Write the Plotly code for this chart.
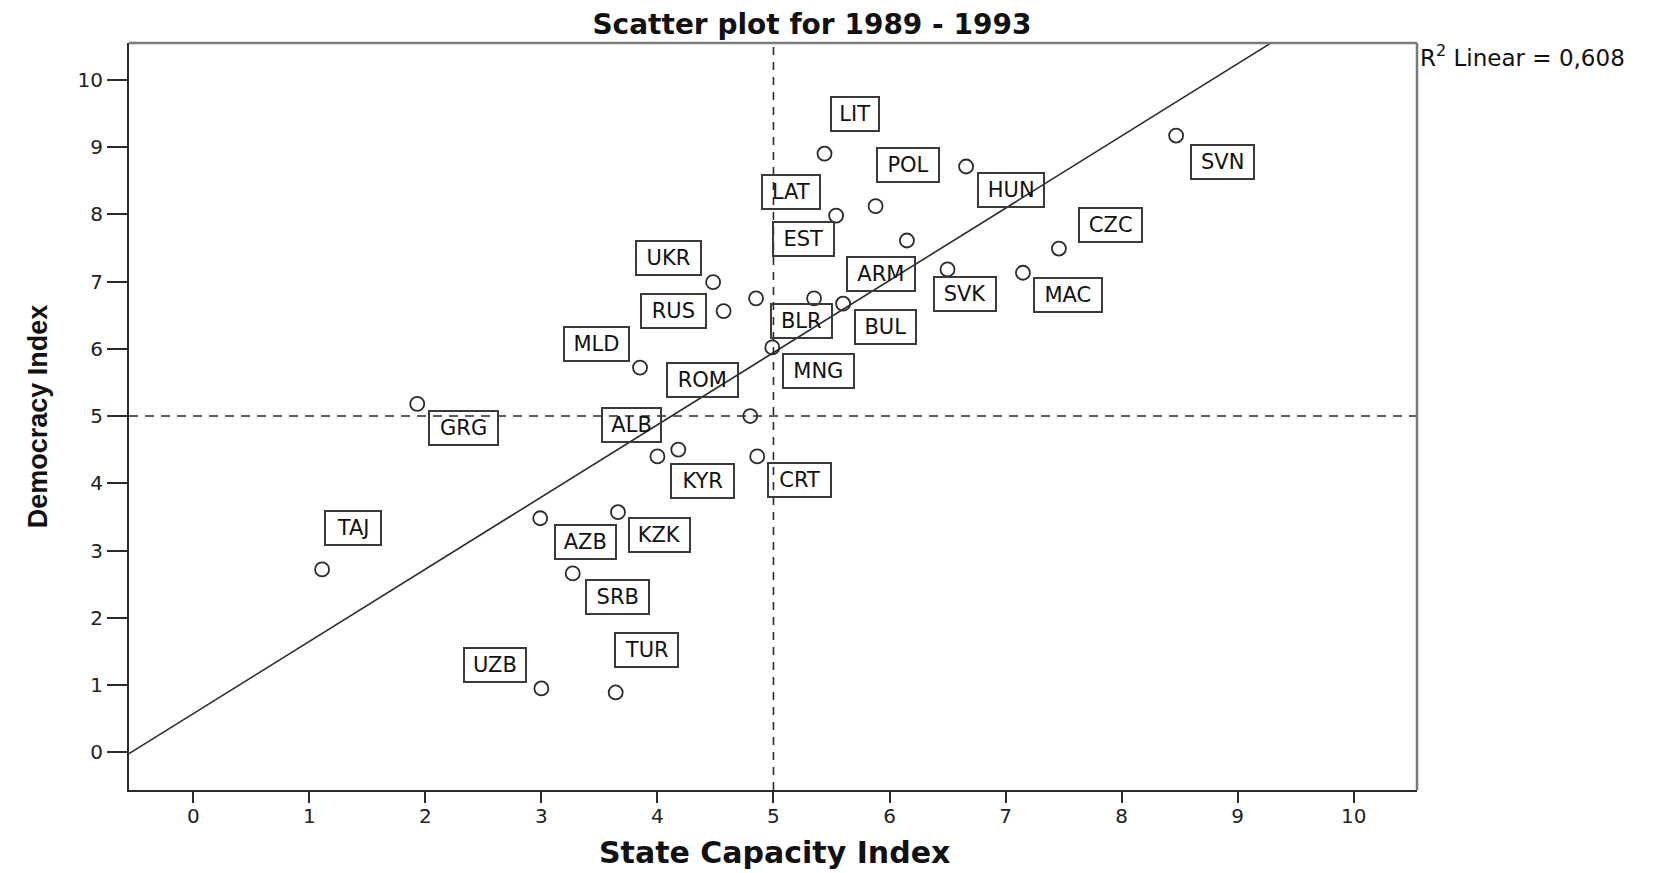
import numpy as np
import plotly.graph_objects as go

# ---- data ----
countries = ["LIT", "HUN", "SVN", "POL", "LAT", "ARM", "CZC", "UKR", "EST", "BLR",
             "SVK", "MAC", "RUS", "BUL", "MNG", "MLD", "GRG", "ROM", "KYR", "ALB",
             "CRT", "KZK", "AZB", "SRB", "TAJ", "UZB", "TUR"]
state_capacity = [5.44, 6.66, 8.47, 5.88, 5.54, 6.15, 7.46, 4.48, 4.85, 5.35,
                  6.50, 7.15, 4.57, 5.60, 4.99, 3.85, 1.93, 4.80, 4.18, 4.00,
                  4.86, 3.66, 2.99, 3.27, 1.11, 3.00, 3.64]
democracy = [8.90, 8.71, 9.17, 8.12, 7.98, 7.61, 7.49, 6.99, 6.75, 6.75,
             7.18, 7.13, 6.56, 6.67, 6.02, 5.72, 5.18, 5.00, 4.50, 4.40,
             4.40, 3.57, 3.48, 2.66, 2.72, 0.95, 0.89]
x_ticks = [0, 1, 2, 3, 4, 5, 6, 7, 8, 9, 10]
y_ticks = [0, 1, 2, 3, 4, 5, 6, 7, 8, 9, 10]
x_title = "State Capacity Index"
y_title = "Democracy Index"
chart_title = "Scatter plot for 1989 - 1993"
r2_text = "R<sup>2</sup> Linear = 0,608"
cut_point = 5

# ---- styling ----
# label box offsets from their point (pixels: right, up)
label_shift = {
    "LIT": (30, 40), "HUN": (45, -24), "SVN": (46, -26), "POL": (32, 41),
    "LAT": (-45, 24), "ARM": (-26, -34), "CZC": (52, 24), "UKR": (-45, 24),
    "EST": (47, 59), "BLR": (-13, -23), "SVK": (17, -25), "MAC": (45, -22),
    "RUS": (-50, 0), "BUL": (42, -23), "MNG": (46, -24), "MLD": (-44, 24),
    "GRG": (46, -24), "ROM": (-48, 36), "KYR": (24, -31), "ALB": (-26, 31),
    "CRT": (42, -24), "KZK": (42, -23), "AZB": (45, -24), "SRB": (45, -24),
    "TAJ": (31, 41), "UZB": (-46, 23), "TUR": (31, 42),
}
CHAR_EM = {"A": .667, "B": .667, "C": .722, "D": .722, "E": .667, "G": .778,
           "H": .722, "I": .278, "J": .5, "K": .667, "L": .556, "M": .833,
           "N": .722, "O": .778, "P": .667, "R": .722, "S": .667, "T": .611,
           "U": .722, "V": .667, "Y": .667, "Z": .611}

x_range = [-0.554, 10.546]
y_range = [-0.56, 10.546]
INK = "#2b2b2b"
FONT = "DejaVu Sans"

fig = go.Figure()

# reference cut lines
fig.add_trace(go.Scatter(x=[cut_point, cut_point], y=y_range, mode="lines",
                         line=dict(color=INK, width=1.6, dash="8px,7px"),
                         hoverinfo="skip", showlegend=False))
fig.add_trace(go.Scatter(x=x_range, y=[cut_point, cut_point], mode="lines",
                         line=dict(color=INK, width=1.6, dash="9px,7px"),
                         hoverinfo="skip", showlegend=False))

# linear fit
slope, intercept = np.polyfit(state_capacity, democracy, 1)
fx = np.array(x_range)
fig.add_trace(go.Scatter(x=fx, y=intercept + slope * fx, mode="lines",
                         line=dict(color=INK, width=1.6),
                         hoverinfo="skip", showlegend=False))

# points
fig.add_trace(go.Scatter(x=state_capacity, y=democracy, mode="markers",
                         text=countries,
                         marker=dict(symbol="circle-open", size=14, color=INK,
                                     line=dict(color=INK, width=1.8)),
                         showlegend=False))

# label boxes
for c, xv, yv in zip(countries, state_capacity, democracy):
    dx, dy = label_shift[c]
    em = sum(CHAR_EM.get(ch, .667) for ch in c)
    fig.add_annotation(x=xv, y=yv, xref="x", yref="y", text=c, showarrow=False,
                       xshift=dx, yshift=dy,
                       font=dict(family=FONT, size=21, color="#111"),
                       width=26 * em + 6, height=30, borderpad=1,
                       bordercolor="#3a3a3a", borderwidth=2,
                       bgcolor="rgba(0,0,0,0)")

# R^2 text
fig.add_annotation(x=1.001, y=0.982, xref="paper", yref="paper", text=r2_text,
                   showarrow=False, xanchor="left", yanchor="middle",
                   font=dict(family=FONT, size=23, color="#111"))

# x axis title (placed as annotation for exact position)
fig.add_annotation(x=0.5008, y=-0.083, xref="paper", yref="paper", text=x_title,
                   showarrow=False, xanchor="center", yanchor="middle",
                   font=dict(family=FONT, size=30, color="#111", weight="bold"))

# top / right frame lines (lighter grey)
fig.add_shape(type="line", xref="paper", yref="paper", x0=0, x1=1, y0=1, y1=1,
              line=dict(color="#7a7a7a", width=2.5))
fig.add_shape(type="line", xref="paper", yref="paper", x0=1, x1=1, y0=0, y1=1,
              line=dict(color="#7a7a7a", width=2.5))

# page body keeps an 8px margin, so the figure is sized to fit inside the window
fig.update_layout(
    width=1637, height=865,
    margin=dict(l=121, r=228, t=35, b=83),
    paper_bgcolor="white", plot_bgcolor="white",
    title=dict(text=chart_title, xref="container", yref="container",
               x=0.4911, y=1 - 16 / 865, xanchor="center", yanchor="middle",
               automargin=False,
               font=dict(family=FONT, size=28, color="#111", weight="bold")),
    xaxis=dict(range=x_range, tickvals=x_ticks, ticks="outside", ticklen=11,
               tickwidth=2, tickcolor=INK, showline=True, linecolor=INK, linewidth=2,
               showgrid=False, zeroline=False, ticklabelstandoff=-4, automargin=False,
               tickfont=dict(family=FONT, size=20, color="#222")),
    yaxis=dict(range=y_range, tickvals=y_ticks, ticks="outside", ticklen=20,
               tickwidth=2, tickcolor=INK, showline=True, linecolor=INK, linewidth=2,
               showgrid=False, zeroline=False, ticklabelstandoff=0, automargin=False,
               tickfont=dict(family=FONT, size=20, color="#222"),
               title=dict(text=y_title, standoff=22,
                          font=dict(family="Liberation Sans", size=27, color="#111",
                                    weight="bold"))),
)

fig.write_html("out.html")
